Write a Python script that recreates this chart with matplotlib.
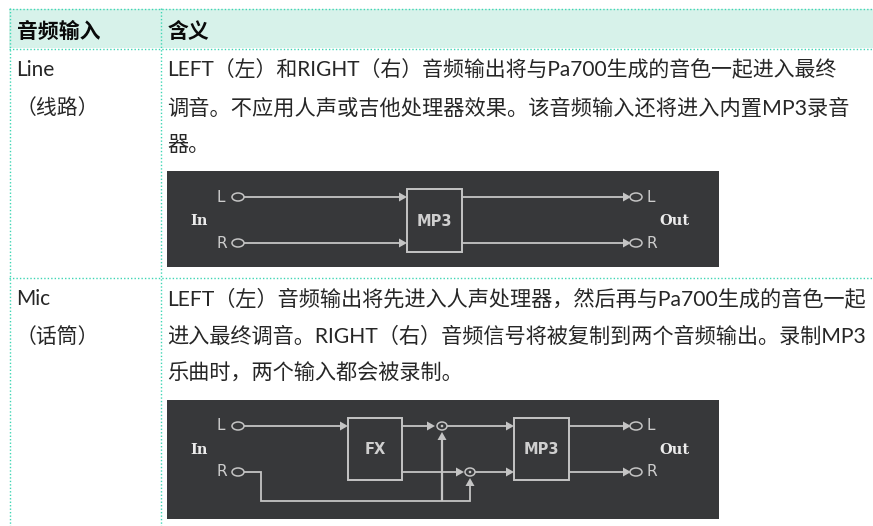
import matplotlib
matplotlib.use("Agg")
import matplotlib.pyplot as plt
from matplotlib.patches import Ellipse, Polygon, Rectangle

plt.rcParams["font.family"] = ["Lato", "Noto Sans CJK SC", "DejaVu Sans"]

WIDTH, HEIGHT = 873, 526
DOT = "#3ed6b4"
HEADER_BG = "#d7f2ea"
TEXT = "#262626"
PANEL = "#37383a"
WIRE = "#c4c4c4"

headers = ["音频输入", "含义"]
row_names = [["Line", "（线路）"], ["Mic", "（话筒）"]]
row_texts = [
    [
        "LEFT（左）和RIGHT（右）音频输出将与Pa700生成的音色一起进入最终",
        "调音。不应用人声或吉他处理器效果。该音频输入还将进入内置MP3录音",
        "器。",
    ],
    [
        "LEFT（左）音频输出将先进入人声处理器，然后再与Pa700生成的音色一起",
        "进入最终调音。RIGHT（右）音频信号将被复制到两个音频输出。录制MP3",
        "乐曲时，两个输入都会被录制。",
    ],
]
row_line_y = [[70, 108, 145], [299, 337, 374]]
# the original font is a little wider on some lines, fit each one to its right edge
row_line_size = [[15.07, 15.27, 15.2], [15.26, 15.26, 15.26]]


def wire(ax, xs, ys, lw=1.3):
    ax.plot(xs, ys, color=WIRE, lw=lw, solid_capstyle="butt", solid_joinstyle="miter")


def arrow(ax, x, y, direction="right"):
    if direction == "right":
        pts = [(x, y), (x - 8, y - 4.5), (x - 8, y + 4.5)]
    else:
        pts = [(x, y), (x - 4.5, y + 8), (x + 4.5, y + 8)]
    ax.add_patch(Polygon(pts, closed=True, fc=WIRE, ec="none", zorder=3))


def jack(ax, x, y):
    ax.add_patch(Ellipse((x, y), 12, 8, fc=PANEL, ec=WIRE, lw=1.1, zorder=4))


def mixer(ax, x, y):
    ax.add_patch(Ellipse((x, y), 10, 8, fc=PANEL, ec=WIRE, lw=1.1, zorder=4))
    ax.add_patch(Ellipse((x, y), 2.6, 2.6, fc=WIRE, ec="none", zorder=5))


def box(ax, x0, x1, y0, y1, label):
    ax.add_patch(Rectangle((x0, y0), x1 - x0, y1 - y0, fc=PANEL, ec=WIRE, lw=1.4, zorder=2))
    ax.text((x0 + x1) / 2, (y0 + y1) / 2 + 1, label, color="#cfcfcf", fontsize=10.5, weight="bold",
            family="DejaVu Sans", ha="center", va="center", zorder=3)


def io_labels(ax, y_l, y_r):
    mid = (y_l + y_r) / 2 + 1
    ax.text(190, mid, "In", color="#ececec", fontsize=10.5, weight="bold", family="DejaVu Serif",
            ha="left", va="center")
    ax.text(659, mid, "Out", color="#ececec", fontsize=10.5, weight="bold", family="DejaVu Serif",
            ha="left", va="center")
    for y, name in ((y_l, "L"), (y_r, "R")):
        ax.text(216, y, name, color="#cccccc", fontsize=11, family="DejaVu Sans", ha="left", va="center")
        ax.text(647, y, name, color="#cccccc", fontsize=11, family="DejaVu Sans", ha="left", va="center")
        jack(ax, 238, y)
        jack(ax, 636, y)
        arrow(ax, 631, y)


def panel(ax, y0, y1):
    ax.add_patch(Rectangle((167, y0), 552, y1 - y0, fc=PANEL, ec="none", zorder=1))


def line_diagram(ax):
    y_l, y_r = 197, 243
    panel(ax, 171, 267)
    box(ax, 407, 462, 189, 252, "MP3")
    for y in (y_l, y_r):
        wire(ax, [244, 400], [y, y])
        arrow(ax, 407, y)
        wire(ax, [462, 624], [y, y])
    io_labels(ax, y_l, y_r)


def mic_diagram(ax):
    y_l, y_r = 426, 472
    panel(ax, 400, 519)
    box(ax, 348, 402, 418, 480, "FX")
    box(ax, 514, 569, 418, 480, "MP3")
    # L path through the effect and the first mixer
    wire(ax, [244, 341], [y_l, y_l])
    arrow(ax, 348, y_l)
    wire(ax, [402, 428], [y_l, y_l])
    arrow(ax, 435, y_l)
    wire(ax, [446, 507], [y_l, y_l])
    arrow(ax, 514, y_l)
    # lower effect output to the second mixer
    wire(ax, [402, 457], [y_r, y_r])
    arrow(ax, 464, y_r)
    wire(ax, [475, 507], [y_r, y_r])
    arrow(ax, 514, y_r)
    # R input fed to both mixers
    wire(ax, [244, 261, 261, 470, 470], [y_r, y_r, 501, 501, 485])
    arrow(ax, 470, 478, "up")
    wire(ax, [442, 442], [501, 439], lw=1.6)
    arrow(ax, 442, 432, "up")
    mixer(ax, 442, y_l)
    mixer(ax, 470, y_r)
    for y in (y_l, y_r):
        wire(ax, [569, 624], [y, y])
    io_labels(ax, y_l, y_r)


def draw_table(ax):
    ax.add_patch(Rectangle((9, 9), WIDTH - 9, 39, fc=HEADER_BG, ec="none"))
    dots = dict(color=DOT, lw=1.0, linestyle=(0, (1, 1.5)))
    for y in (8.5, 48.5, 277.5):
        ax.plot([9, WIDTH], [y, y], **dots)
    for x in (9.5, 160.5):
        ax.plot([x, x], [8, HEIGHT], **dots)

    ax.text(17, 32, headers[0], fontsize=15, weight="bold", color="#0a0a0a", va="center")
    ax.text(168, 32, headers[1], fontsize=15, weight="bold", color="#0a0a0a", va="center")
    for names, lines, ys, sizes in zip(row_names, row_texts, row_line_y, row_line_size):
        for name, y in zip(names, ys):
            ax.text(16, y, name, fontsize=15, color=TEXT, va="center")
        for line, y, size in zip(lines, ys, sizes):
            ax.text(167, y, line, fontsize=size, color=TEXT, va="center")


def main():
    fig = plt.figure(figsize=(WIDTH / 100, HEIGHT / 100), dpi=100)
    ax = fig.add_axes([0, 0, 1, 1])
    ax.set_xlim(0, WIDTH)
    ax.set_ylim(HEIGHT, 0)
    ax.axis("off")

    draw_table(ax)
    line_diagram(ax)
    mic_diagram(ax)
    fig.savefig("out.png", dpi=100)


if __name__ == "__main__":
    main()
